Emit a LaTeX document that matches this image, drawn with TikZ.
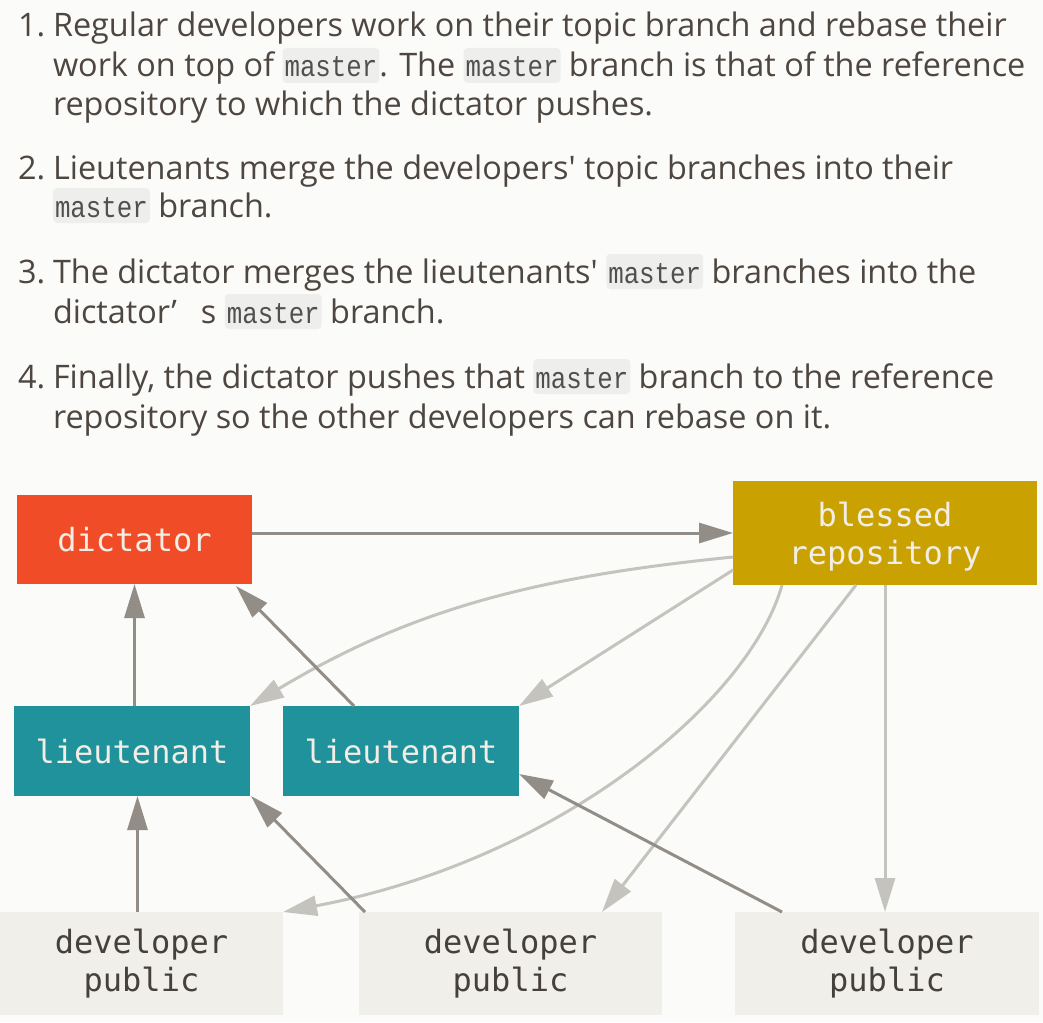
\documentclass[tikz,border=0pt]{standalone}
\usepackage{graphicx}
\usepackage{fontspec}
\setmainfont{Open Sans}[Ligatures=TeXOff]
\newfontfamily\labelfont{DejaVu Sans Mono}
\newfontfamily\codefont{Liberation Mono}[FakeStretch=0.86]
\usetikzlibrary{arrows.meta,calc}
\definecolor{bgc}{RGB}{251,251,249}
\definecolor{txtc}{RGB}{78,70,64}
\definecolor{codebg}{RGB}{238,238,237}
\definecolor{codec}{RGB}{80,80,80}
\definecolor{dictc}{RGB}{240,76,40}
\definecolor{blessc}{RGB}{201,161,0}
\definecolor{ltc}{RGB}{32,146,155}
\definecolor{devc}{RGB}{240,239,233}
\definecolor{labc}{RGB}{242,238,230}
\definecolor{devtc}{RGB}{70,64,59}
\definecolor{darkc}{RGB}{146,141,135}
\definecolor{lightc}{RGB}{197,195,190}
\tikzset{
  codebox/.style={fill=codebg, rounded corners=4pt, inner xsep=2pt, inner ysep=0pt,
    text height=29pt, text depth=6pt, text=codec, font=\codefont\fontsize{30}{30}\selectfont},
  txt/.style={anchor=base west, inner sep=0pt, outer sep=0pt, text=txtc,
    font=\fontsize{32.4}{38}\selectfont},
  boxnode/.style={inner sep=0pt, outer sep=0pt, align=center,
    font=\labelfont\fontsize{32}{38}\selectfont},
  darr/.style={draw=darkc, line width=3pt, -{Triangle[length=34pt,width=20pt]}},
  larr/.style={draw=lightc, line width=3pt, -{Triangle[length=34pt,width=20pt]}}
}
\newcommand\mcode[1]{\tikz[baseline=(mc.base)]\node[codebox](mc){#1};}
\newcommand\lowr[1]{\raisebox{-4pt}[\height][\depth]{#1}}
\begin{document}
\begin{tikzpicture}[x=1pt,y=-1pt]
\fill[bgc] (0,0) rectangle (1043,1022);
\useasboundingbox (0,0) rectangle (1043,1022);
% list text
\node[txt] (n1) at (18,37) {1.};
\node[txt] (l1) at (53,37) {Regular developers work on their topic branch and rebase their};
\node[txt] (l2) at (53,77) {work on top of \mcode{master}. The \mcode{master} branch is that of the reference};
\node[txt] (l3) at (53,116) {repository to which the dictator pushes.};
\node[txt] (n2) at (18,179) {2.};
\node[txt] (l4) at (53,179) {Lieutenants merge the developers' topic branches into their};
\node[txt] (l5) at (53,217) {\mcode{master} branch.};
\node[txt] (n3) at (18,283) {3.};
\node[txt] (l6) at (53,283) {The dictator merges the lieutenants' \mcode{master} branches into the};
\node[txt] (l7) at (53,323) {dictator’\hspace{24pt}s \mcode{master} branch.};
\node[txt] (n4) at (18,388) {4.};
\node[txt] (l8) at (53,388) {Finally, the dictator pushes that \mcode{master} branch to the reference};
\node[txt] (l9) at (53,428) {repository so the other developers can rebase on it.};
% boxes
\node[boxnode, fill=dictc, text=labc, minimum width=235pt, minimum height=89pt] (dict) at (134.5,539.5) {dictator};
\node[boxnode, fill=blessc, text=labc, minimum width=304pt, minimum height=104pt] (bless) at (885,533) {\lowr{blessed}\\\lowr{repository}};
\node[boxnode, fill=ltc, text=labc, minimum width=236pt, minimum height=90pt] (lt1) at (132,751) {lieutenant};
\node[boxnode, fill=ltc, text=labc, minimum width=236pt, minimum height=90pt] (lt2) at (401,751) {lieutenant};
\node[boxnode, fill=devc, text=devtc, minimum width=283pt, minimum height=103pt] (dev1) at (141.5,963.5) {developer\\public};
\node[boxnode, fill=devc, text=devtc, minimum width=303pt, minimum height=103pt] (dev2) at (510.5,963.5) {developer\\public};
\node[boxnode, fill=devc, text=devtc, minimum width=304pt, minimum height=103pt] (dev3) at (887,963.5) {developer\\public};
% light arrows
\draw[larr] ([yshift=-24pt]bless.west) .. controls +(-200,20) and +(160,-96) .. (lt1.north east);
\draw[larr] ([yshift=-37pt]bless.west) -- (lt2.north east);
\draw[larr] ([xshift=49pt]bless.south west) .. controls +(-32,115) and +(277,-52) .. (dev1.north east);
\draw[larr] ([xshift=123pt]bless.south west) -- ([xshift=-60pt]dev2.north east);
\draw[larr] (bless.south) -- (bless.south |- dev3.north);
% dark arrows
\draw[darr] (dict.east |- bless.west) -- (bless.west);
\draw[darr] (lt1.north -| dict.south) -- (dict.south);
\draw[darr] ([xshift=-47pt]lt2.north) -- ([xshift=-16pt,yshift=-2pt]dict.south east);
\draw[darr] ([xshift=-4pt]dev1.north) -- ([xshift=-4pt]dev1.north |- lt1.south);
\draw[darr] ([xshift=6pt]dev2.north west) -- ([xshift=1pt]lt1.south east);
\draw[darr] ([xshift=47pt]dev3.north west) -- ([yshift=22pt]lt2.south east);
\end{tikzpicture}
\end{document}
